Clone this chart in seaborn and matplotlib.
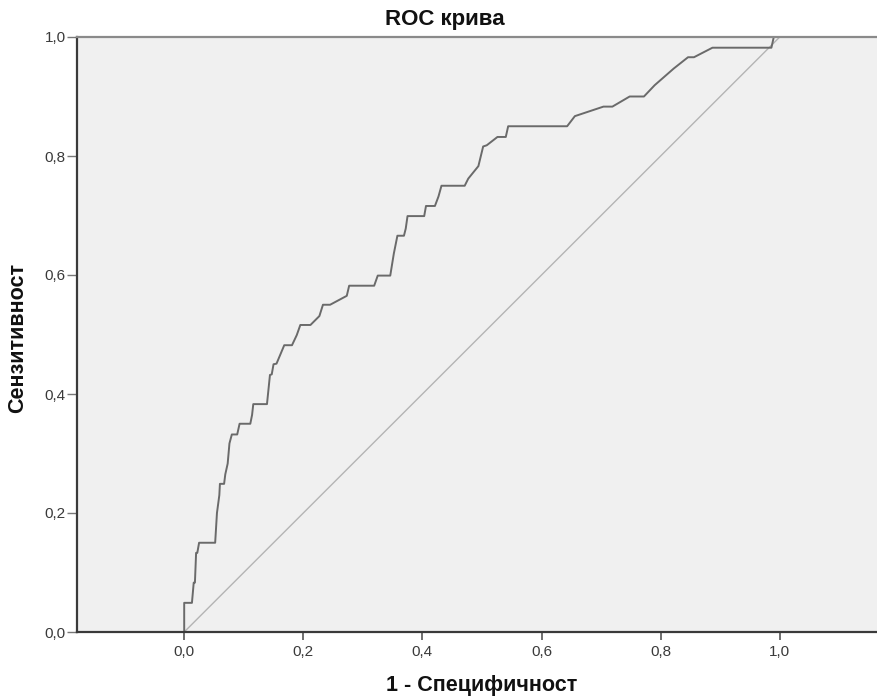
import matplotlib
matplotlib.use("Agg")
import matplotlib.pyplot as plt
import seaborn as sns
import pandas as pd

# ROC curve vertices (1 - specificity, sensitivity)
fpr = [0.0, 0.0, 0.013, 0.016, 0.018, 0.020, 0.022, 0.025, 0.052, 0.055,
       0.059, 0.060, 0.067, 0.069, 0.073, 0.076, 0.080, 0.089, 0.093, 0.111,
       0.114, 0.116, 0.139, 0.144, 0.147, 0.150, 0.155, 0.168, 0.181, 0.189,
       0.195, 0.212, 0.227, 0.233, 0.245, 0.273, 0.277, 0.319, 0.325, 0.346,
       0.352, 0.358, 0.369, 0.372, 0.375, 0.403, 0.406, 0.421, 0.427, 0.432,
       0.471, 0.477, 0.494, 0.502, 0.508, 0.526, 0.540, 0.544, 0.643, 0.656,
       0.704, 0.719, 0.748, 0.772, 0.790, 0.822, 0.846, 0.856, 0.887, 0.986,
       0.990, 1.0]
tpr = [0.0, 0.049, 0.049, 0.083, 0.083, 0.133, 0.133, 0.150, 0.150, 0.200,
       0.230, 0.249, 0.249, 0.265, 0.283, 0.317, 0.332, 0.332, 0.350, 0.350,
       0.365, 0.383, 0.383, 0.432, 0.433, 0.450, 0.451, 0.482, 0.482, 0.499,
       0.516, 0.516, 0.531, 0.550, 0.550, 0.565, 0.582, 0.582, 0.599, 0.599,
       0.636, 0.666, 0.666, 0.678, 0.699, 0.699, 0.716, 0.716, 0.732, 0.750,
       0.750, 0.762, 0.783, 0.816, 0.818, 0.832, 0.832, 0.850, 0.850, 0.867,
       0.883, 0.883, 0.900, 0.900, 0.919, 0.947, 0.966, 0.966, 0.982, 0.982,
       1.0, 1.0]

# Reference (chance) line
ref_x = [0.0, 1.0]
ref_y = [0.0, 1.0]

tick_vals = [0.0, 0.2, 0.4, 0.6, 0.8, 1.0]
tick_labels = ["0,0", "0,2", "0,4", "0,6", "0,8", "1,0"]

title = "ROC крива"
xlabel = "1 - Специфичност"
ylabel = "Сензитивност"

sns.set_theme(style="white")
plt.rcParams["font.family"] = ["Liberation Sans", "DejaVu Sans"]

fig = plt.figure(figsize=(8.78, 6.97), dpi=100)
ax = fig.add_axes([77 / 878, 1 - 632 / 697, 1 - 77 / 878, (632 - 37) / 697])
ax.set_facecolor("#f0f0f0")

curve = pd.DataFrame({"x": fpr, "y": tpr})
ref = pd.DataFrame({"x": ref_x, "y": ref_y})

sns.lineplot(data=ref, x="x", y="y", ax=ax, color="#b4b4b4", linewidth=1.0,
             sort=False, estimator=None)
sns.lineplot(data=curve, x="x", y="y", ax=ax, color="#6a6a6a", linewidth=1.4,
             sort=False, estimator=None)

ax.set_xlim(-0.18, 1.165)
ax.set_ylim(0.0, 1.0)
ax.set_xticks(tick_vals)
ax.set_xticklabels(tick_labels)
ax.set_yticks(tick_vals)
ax.set_yticklabels(tick_labels)
ax.tick_params(axis="x", direction="out", length=5.5, width=1.2, color="#555555",
               labelsize=11, labelcolor="#3a3a3a", pad=4, bottom=True)
ax.tick_params(axis="y", direction="out", length=7, width=1.0, color="#777777",
               labelsize=11, labelcolor="#3a3a3a", pad=1, left=True)

ax.set_xlabel("")
ax.set_ylabel("")

for side in ["left", "bottom"]:
    ax.spines[side].set_visible(True)
    ax.spines[side].set_color("#3a3a3a")
    ax.spines[side].set_linewidth(1.6)
ax.spines["top"].set_visible(True)
ax.spines["top"].set_color("#8a8a8a")
ax.spines["top"].set_linewidth(1.6)
ax.spines["right"].set_visible(False)

fig.text(445 / 878, 1 - 19 / 697, title, ha="center", va="center",
         fontsize=16, fontweight="bold", color="#111111")
fig.text(482 / 878, 1 - 686 / 697, xlabel, ha="center", va="center",
         fontsize=15.5, fontweight="bold", color="#111111")
fig.text(18 / 878, 1 - 338 / 697, ylabel, ha="center", va="center",
         rotation=90, fontsize=15.5, fontweight="bold", color="#111111")

fig.savefig("out.png", dpi=100)
